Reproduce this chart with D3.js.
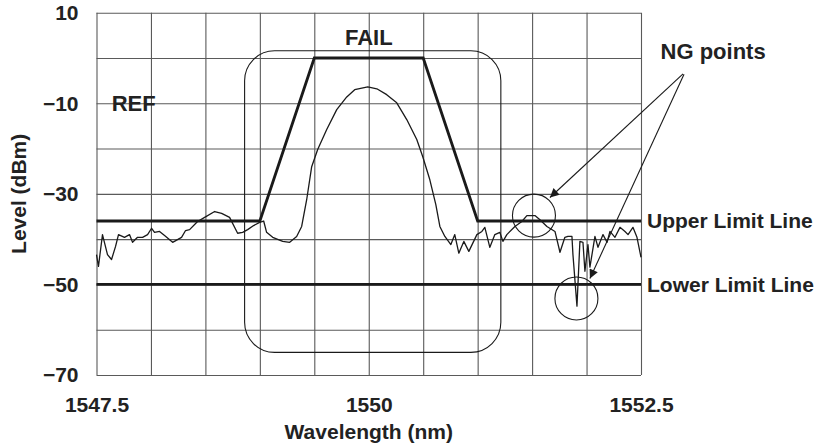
<!DOCTYPE html>
<html>
<head>
<meta charset="utf-8">
<script src="https://cdn.jsdelivr.net/npm/d3@7"></script>
<style>
  html, body { margin: 0; padding: 0; background: #fff; }
  svg { display: block; }
  text { font-family: "Liberation Sans", Arial, sans-serif; font-weight: bold; fill: #222; }
</style>
</head>
<body>
<svg id="chart" width="819" height="446"></svg>
<script>
// ---------------- data ----------------
const xDomain = [1547.5, 1552.5];
const yDomain = [-70, 10];
const xGridValues = [1547.5, 1548, 1548.5, 1549, 1549.5, 1550, 1550.5, 1551, 1551.5, 1552, 1552.5];
const yGridValues = [-70, -60, -50, -40, -30, -20, -10, 0, 10];
const xTickLabels = [1547.5, 1550, 1552.5];
const yTickLabels = [10, -10, -30, -50, -70];

// measured spectrum (wavelength nm, level dBm)
const traceWavelength = [
  1547.500, 1547.518, 1547.555, 1547.601, 1547.638, 1547.675, 1547.702, 1547.757, 1547.803, 1547.831,
  1547.877, 1547.923, 1547.969, 1548.006, 1548.033, 1548.079, 1548.125, 1548.199, 1548.281, 1548.318,
  1548.355, 1548.428, 1548.493, 1548.585, 1548.649, 1548.722, 1548.796, 1548.842, 1548.888, 1548.943,
  1548.998, 1549.035, 1549.062, 1549.118, 1549.210, 1549.274, 1549.338, 1549.384, 1549.430, 1549.476,
  1549.531, 1549.614, 1549.706, 1549.798, 1549.871, 1549.991, 1550.074, 1550.165, 1550.257, 1550.349,
  1550.441, 1550.496, 1550.561, 1550.616, 1550.653, 1550.699, 1550.754, 1550.790, 1550.827, 1550.873,
  1550.919, 1550.993, 1551.039, 1551.066, 1551.112, 1551.158, 1551.204, 1551.232, 1551.268, 1551.342,
  1551.406, 1551.452, 1551.526, 1551.572, 1551.636, 1551.710, 1551.756, 1551.801, 1551.829, 1551.866,
  1551.875, 1551.912, 1551.939, 1551.967, 1551.985, 1552.013, 1552.031, 1552.077, 1552.105, 1552.151,
  1552.188, 1552.215, 1552.261, 1552.307, 1552.353, 1552.381, 1552.426, 1552.463, 1552.500
];
const traceLevel = [
  -43.4, -46.0, -39.0, -43.4, -44.5, -41.6, -39.0, -39.6, -39.0, -40.7,
  -39.6, -39.6, -39.0, -37.6, -38.5, -38.3, -39.2, -40.7, -39.6, -38.1,
  -37.9, -36.1, -35.2, -33.9, -34.3, -35.2, -38.7, -38.5, -37.9, -37.0,
  -36.3, -36.0, -38.5, -39.6, -40.5, -40.7, -39.4, -37.2, -31.3, -24.0,
  -20.2, -15.8, -11.4, -8.6, -7.0, -6.4, -6.8, -8.1, -9.9, -13.6,
  -18.0, -21.8, -26.9, -32.4, -37.2, -39.4, -41.2, -39.0, -43.1, -40.5,
  -42.7, -39.0, -38.3, -37.4, -41.8, -39.0, -38.5, -40.5, -39.0, -37.2,
  -36.1, -34.8, -34.8, -35.7, -37.2, -38.3, -42.9, -39.6, -39.4, -39.4,
  -43.4, -54.8, -40.5, -40.7, -47.1, -41.2, -46.2, -39.4, -41.8, -39.0,
  -40.7, -38.3, -39.6, -37.4, -38.3, -39.0, -37.4, -39.6, -44.0
];

// upper limit mask (template)
const maskWavelength = [1547.5, 1549.0, 1549.5, 1550.5, 1551.0, 1552.5];
const maskLevel = [-36, -36, 0, 0, -36, -36];
// lower limit line
const lowerWavelength = [1547.5, 1552.5];
const lowerLevel = [-50, -50];

// "FAIL" zone (rounded rectangle) in data units
const failZoneWavelength = [1548.86, 1551.213];
const failZoneLevel = [1.6, -65.0];

// NG circles
const ngWavelength = [1551.517, 1551.907];
const ngLevel = [-34.8, -53.1];

// arrows: start point and tip
const arrowStartWavelength = [1552.886, 1552.895];
const arrowStartLevel = [-3.5, -3.6];
const arrowTipWavelength = [1551.664, 1552.031];
const arrowTipLevel = [-30.8, -48.7];

// ---------------- layout ----------------
const svg = d3.select("#chart");
const x = d3.scaleLinear().domain(xDomain).range([96.5, 641]);
const y = d3.scaleLinear().domain(yDomain).range([375, 12.7]);
const gridColor = "#5a5a5a";
const ink = "#1a1a1a";
const tickFont = 21;
const annotFont = 22;

// grid via axes
svg.append("g")
  .attr("transform", `translate(0,${y(-70)})`)
  .call(d3.axisBottom(x).tickValues(xGridValues).tickSize(-(y(-70) - y(10))).tickFormat(""))
  .call(g => g.select(".domain").remove())
  .call(g => g.selectAll("line").attr("stroke", gridColor).attr("stroke-width", 1.1));

svg.append("g")
  .attr("transform", `translate(${x(1547.5)},0)`)
  .call(d3.axisLeft(y).tickValues(yGridValues).tickSize(-(x(1552.5) - x(1547.5))).tickFormat(""))
  .call(g => g.select(".domain").remove())
  .call(g => g.selectAll("line").attr("stroke", gridColor).attr("stroke-width", 1.1));

// tick labels via axes
svg.append("g")
  .attr("transform", `translate(${x(1547.5)},0)`)
  .call(d3.axisLeft(y).tickValues(yTickLabels).tickSize(0).tickPadding(18).tickFormat(d3.format("d")))
  .call(g => g.select(".domain").remove())
  .call(g => g.selectAll("text").attr("font-size", tickFont).attr("font-family", "Liberation Sans, Arial, sans-serif").attr("font-weight", "bold").attr("fill", "#222"));

svg.append("g")
  .attr("transform", `translate(0,${y(-70)})`)
  .call(d3.axisBottom(x).tickValues(xTickLabels).tickSize(0).tickPadding(22).tickFormat(d => String(d)))
  .call(g => g.select(".domain").remove())
  .call(g => g.selectAll("text").attr("font-size", tickFont).attr("font-family", "Liberation Sans, Arial, sans-serif").attr("font-weight", "bold").attr("fill", "#222"));

// axis titles
svg.append("text")
  .attr("x", (x(1547.5) + x(1552.5)) / 2).attr("y", 439)
  .attr("text-anchor", "middle").attr("font-size", tickFont)
  .text("Wavelength (nm)");
svg.append("text")
  .attr("transform", `translate(26,${(y(10) + y(-70)) / 2}) rotate(-90)`)
  .attr("text-anchor", "middle").attr("font-size", tickFont)
  .text("Level (dBm)");

// fail zone rounded rectangle
svg.append("rect")
  .attr("x", x(failZoneWavelength[0])).attr("y", y(failZoneLevel[0]))
  .attr("width", x(failZoneWavelength[1]) - x(failZoneWavelength[0]))
  .attr("height", y(failZoneLevel[1]) - y(failZoneLevel[0]))
  .attr("rx", 30).attr("ry", 30)
  .attr("fill", "none").attr("stroke", ink).attr("stroke-width", 1.1);

const line = d3.line().x(d => x(d[0])).y(d => y(d[1]));

// measured trace
svg.append("path")
  .datum(d3.zip(traceWavelength, traceLevel))
  .attr("d", line)
  .attr("fill", "none").attr("stroke", ink).attr("stroke-width", 1.3).attr("stroke-linejoin", "round");

// mask & lower limit
svg.append("path")
  .datum(d3.zip(maskWavelength, maskLevel))
  .attr("d", line)
  .attr("fill", "none").attr("stroke", ink).attr("stroke-width", 2.8);
svg.append("path")
  .datum(d3.zip(lowerWavelength, lowerLevel))
  .attr("d", line)
  .attr("fill", "none").attr("stroke", ink).attr("stroke-width", 2.8);

// NG circles
svg.selectAll("circle.ng")
  .data(d3.zip(ngWavelength, ngLevel))
  .join("circle").attr("class", "ng")
  .attr("cx", d => x(d[0])).attr("cy", d => y(d[1])).attr("r", 21.5)
  .attr("fill", "none").attr("stroke", ink).attr("stroke-width", 1.1);

// arrows
svg.append("defs").append("marker")
  .attr("id", "arrow").attr("viewBox", "0 0 10 10")
  .attr("refX", 10).attr("refY", 5)
  .attr("markerWidth", 12).attr("markerHeight", 9)
  .attr("markerUnits", "userSpaceOnUse")
  .attr("orient", "auto")
  .append("path").attr("d", "M0,0 L10,5 L0,10 Z").attr("fill", ink);

arrowStartWavelength.forEach((w, i) => {
  svg.append("line")
    .attr("x1", x(w)).attr("y1", y(arrowStartLevel[i]))
    .attr("x2", x(arrowTipWavelength[i])).attr("y2", y(arrowTipLevel[i]))
    .attr("stroke", ink).attr("stroke-width", 1.1)
    .attr("marker-end", "url(#arrow)");
});

// annotation labels
svg.append("text").attr("x", x(1547.64)).attr("y", y(-10)).attr("dy", "0.35em")
  .attr("font-size", annotFont).text("REF");
svg.append("text").attr("x", x(1550.0)).attr("y", y(4.6)).attr("dy", "0.35em")
  .attr("text-anchor", "middle").attr("font-size", annotFont).text("FAIL");
svg.append("text").attr("x", x(1553.162)).attr("y", y(1.5)).attr("dy", "0.35em")
  .attr("text-anchor", "middle").attr("font-size", annotFont).text("NG points");
svg.append("text").attr("x", x(1552.5) + 6).attr("y", y(-36)).attr("dy", "0.35em")
  .attr("font-size", tickFont).text("Upper Limit Line");
svg.append("text").attr("x", x(1552.5) + 6).attr("y", y(-50)).attr("dy", "0.35em")
  .attr("font-size", tickFont).text("Lower Limit Line");
</script>
</body>
</html>
